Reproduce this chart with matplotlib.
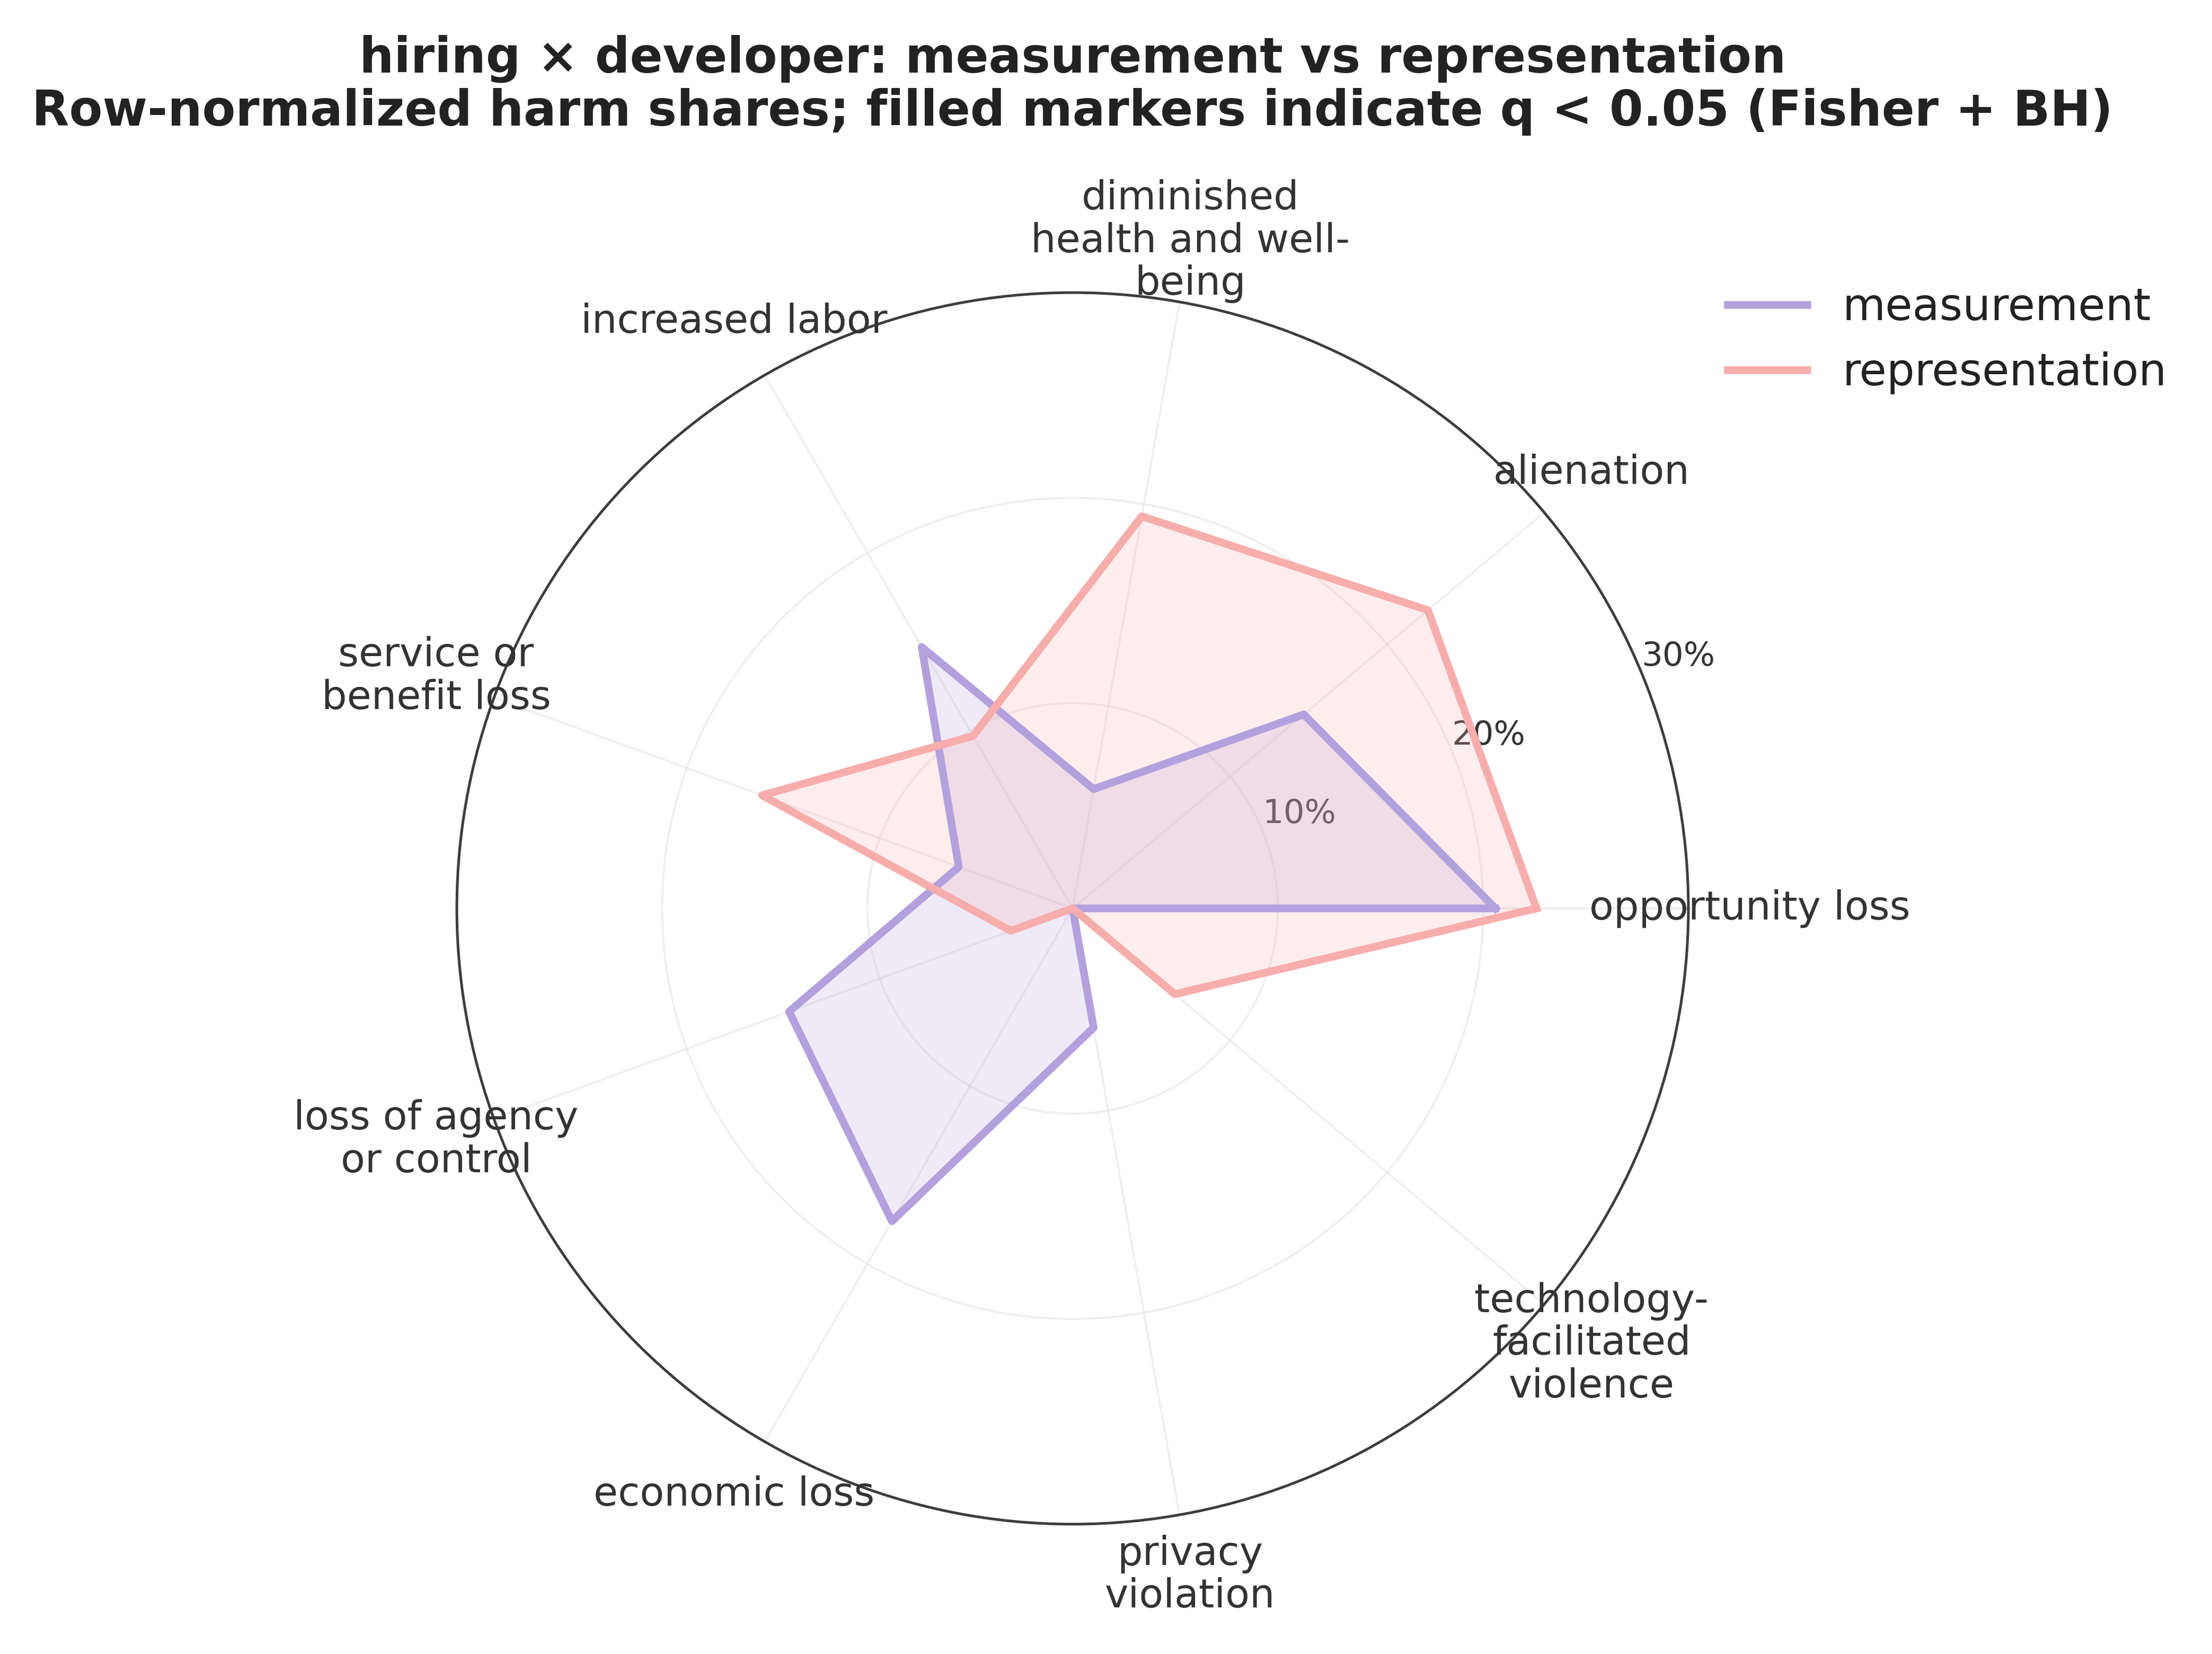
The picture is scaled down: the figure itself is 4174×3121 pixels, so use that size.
import textwrap

import numpy as np
import matplotlib
matplotlib.use("Agg")
import matplotlib.pyplot as plt

# --------------------------------------------------------------------------
# Data (row-normalized harm shares, %)
# --------------------------------------------------------------------------
CATEGORIES = [
    "opportunity loss",
    "alienation",
    "diminished health and well-being",
    "increased labor",
    "service or benefit loss",
    "loss of agency or control",
    "economic loss",
    "privacy violation",
    "technology-facilitated violence",
]
MEASUREMENT = [20.6, 14.7, 5.9, 14.7, 5.9, 14.7, 17.6, 5.9, 0.0]
REPRESENTATION = [22.6, 22.6, 19.4, 9.7, 16.1, 3.2, 0.0, 0.0, 6.5]
SERIES = ["measurement", "representation"]
COLORS = ["#b3a1de", "#f8adad"]

R_TICKS = [10, 20, 30]
R_TICK_LABELS = ["10%", "20%", "30%"]
R_MAX = 30

TITLE = ("hiring \u00d7 developer: measurement vs representation\n"
         "Row-normalized harm shares; filled markers indicate q < 0.05 (Fisher + BH)")

TEXT = "#333333"


def main() -> None:
    plt.rcParams["font.family"] = ["DejaVu Sans"]
    fig = plt.figure(figsize=(4174 / 300, 3121 / 300), dpi=300)
    ax = fig.add_axes([0.2065, 0.0785, 0.5568, 0.7446], projection="polar")

    n = len(CATEGORIES)
    angles = np.linspace(0, 2 * np.pi, n, endpoint=False)
    closed = np.concatenate([angles, angles[:1]])

    for name, vals, col in zip(SERIES, [MEASUREMENT, REPRESENTATION], COLORS):
        v = np.concatenate([vals, vals[:1]])
        ax.fill(closed, v, color=col, alpha=0.22, linewidth=0)
        ax.plot(closed, v, color=col, linewidth=3.5, label=name)

    ax.set_ylim(0, R_MAX)
    ax.set_yticks(R_TICKS)
    ax.set_yticklabels(R_TICK_LABELS, fontsize=15, color=TEXT)
    ax.set_xticks(angles)
    ax.set_xticklabels([""] * n)
    ax.tick_params(axis="both", length=0)
    ax.set_axisbelow(True)
    ax.grid(True, color="#e6e6e6", linewidth=1.0, alpha=0.6)
    ax.spines["polar"].set_color("#3d3d3d")
    ax.spines["polar"].set_linewidth(1.2)

    # category labels, wrapped
    for ang, cat in zip(angles, CATEGORIES):
        ax.text(ang, R_MAX * 1.1, textwrap.fill(cat, width=16),
                ha="center", va="center", fontsize=18, color=TEXT,
                clip_on=False, linespacing=1.13)

    fig.suptitle(TITLE, x=0.4849, y=0.9485, va="center", fontsize=22,
                 fontweight="bold", color="#222222", linespacing=1.13)

    ax.legend(loc="upper left", bbox_to_anchor=(0.763, 0.851),
              bbox_transform=fig.transFigure, frameon=False, fontsize=20,
              handlelength=1.8, labelcolor="#222222")

    fig.savefig("out.png", dpi=300)
    plt.close(fig)


if __name__ == "__main__":
    main()
